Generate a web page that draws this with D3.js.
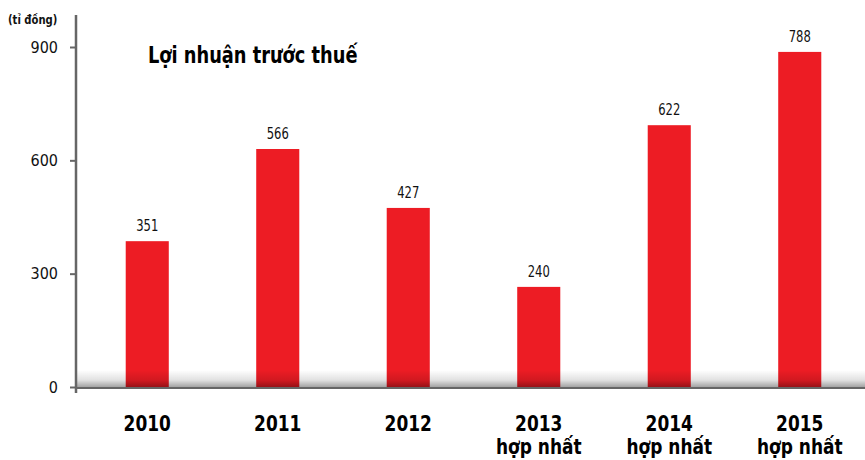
<!DOCTYPE html>
<html>
<head>
<meta charset="utf-8">
<script src="https://cdn.jsdelivr.net/npm/d3@7"></script>
<style>
  body { margin: 0; background: #fff; }
  text { font-family: "Liberation Sans Narrow", "DejaVu Sans Condensed", sans-serif; }
</style>
</head>
<body>
<div id="chart"></div>
<script>
// values printed above the bars
var years = ["2010", "2011", "2012", "2013", "2014", "2015"];
var subLabels = ["", "", "", "hợp nhất", "hợp nhất", "hợp nhất"];
var labelValues = [351, 566, 427, 240, 622, 788];
// bar heights as drawn, read against the axis (they don't match the printed numbers)
var barValues = [386, 630, 474, 265, 693, 887];
var yTicks = [0, 300, 600, 900];

var width = 865, height = 460;
var axisX = 76, baseY = 387;
var squeeze = 0.86; // fonts here are wider than the original condensed face

var svg = d3.select("#chart").append("svg")
    .attr("width", width)
    .attr("height", height);

var defs = svg.append("defs");
var grad = defs.append("linearGradient")
    .attr("id", "shade")
    .attr("x1", 0).attr("y1", 0).attr("x2", 0).attr("y2", 1);
grad.append("stop").attr("offset", "0%").attr("stop-color", "#000").attr("stop-opacity", 0);
grad.append("stop").attr("offset", "60%").attr("stop-color", "#000").attr("stop-opacity", 0.12);
grad.append("stop").attr("offset", "100%").attr("stop-color", "#000").attr("stop-opacity", 0.36);

var y = d3.scaleLinear()
    .domain([0, 900])
    .range([baseY, 47]);

var x = d3.scaleBand()
    .domain(years)
    .range([82, 865])
    .paddingInner(0.67)
    .paddingOuter(0.335);

function label(parent, tx, ty, sx) {
    return parent.append("g")
        .attr("transform", "translate(" + tx + "," + ty + ") scale(" + (sx || squeeze) + ",1)")
        .append("text");
}

// bars
svg.selectAll("rect.bar")
    .data(years)
    .enter().append("rect")
    .attr("class", "bar")
    .attr("x", d => x(d))
    .attr("y", (d, i) => y(barValues[i]))
    .attr("width", x.bandwidth())
    .attr("height", (d, i) => baseY - y(barValues[i]))
    .attr("fill", "#ed1c24");

// grey shadow above the base line
svg.append("rect")
    .attr("x", axisX)
    .attr("y", baseY - 17)
    .attr("width", width - axisX)
    .attr("height", 17)
    .attr("fill", "url(#shade)");

// value labels
labelValues.forEach(function(v, i) {
    label(svg, x(years[i]) + x.bandwidth() / 2, y(barValues[i]) - 10)
        .attr("text-anchor", "middle")
        .attr("font-size", 15)
        .attr("fill", "#111")
        .text(v);
});

// y axis
var yAxis = d3.axisLeft(y)
    .tickValues(yTicks)
    .tickSize(6)
    .tickPadding(12);

var gy = svg.append("g")
    .attr("transform", "translate(" + axisX + ",0)")
    .call(yAxis);
gy.select(".domain").remove();
gy.selectAll(".tick line").attr("stroke", "#666").attr("stroke-width", 2);
gy.selectAll(".tick text")
    .attr("font-size", 16)
    .attr("fill", "#111")
    .style("font-family", "'Liberation Sans Narrow', 'DejaVu Sans Condensed', sans-serif");

svg.append("line")
    .attr("x1", axisX).attr("x2", axisX)
    .attr("y1", 15).attr("y2", 393)
    .attr("stroke", "#666").attr("stroke-width", 2.5);

svg.append("line")
    .attr("x1", axisX).attr("x2", width)
    .attr("y1", baseY + 1).attr("y2", baseY + 1)
    .attr("stroke", "#666").attr("stroke-width", 2);

// category labels
years.forEach(function(d, i) {
    var cx = x(d) + x.bandwidth() / 2;
    label(svg, cx, 431, 0.9)
        .attr("text-anchor", "middle")
        .attr("font-size", 21)
        .attr("font-weight", "bold")
        .attr("fill", "#000")
        .text(d);
    if (subLabels[i]) {
        label(svg, cx, 454, 0.9)
            .attr("text-anchor", "middle")
            .attr("font-size", 21)
            .attr("font-weight", "bold")
            .attr("fill", "#000")
            .text(subLabels[i]);
    }
});

// unit and title
label(svg, 8, 24)
    .attr("font-size", 13)
    .attr("font-weight", "bold")
    .attr("fill", "#111")
    .text("(tỉ đồng)");

label(svg, 148, 63)
    .attr("font-size", 23)
    .attr("font-weight", "bold")
    .attr("fill", "#000")
    .text("Lợi nhuận trước thuế");
</script>
</body>
</html>
